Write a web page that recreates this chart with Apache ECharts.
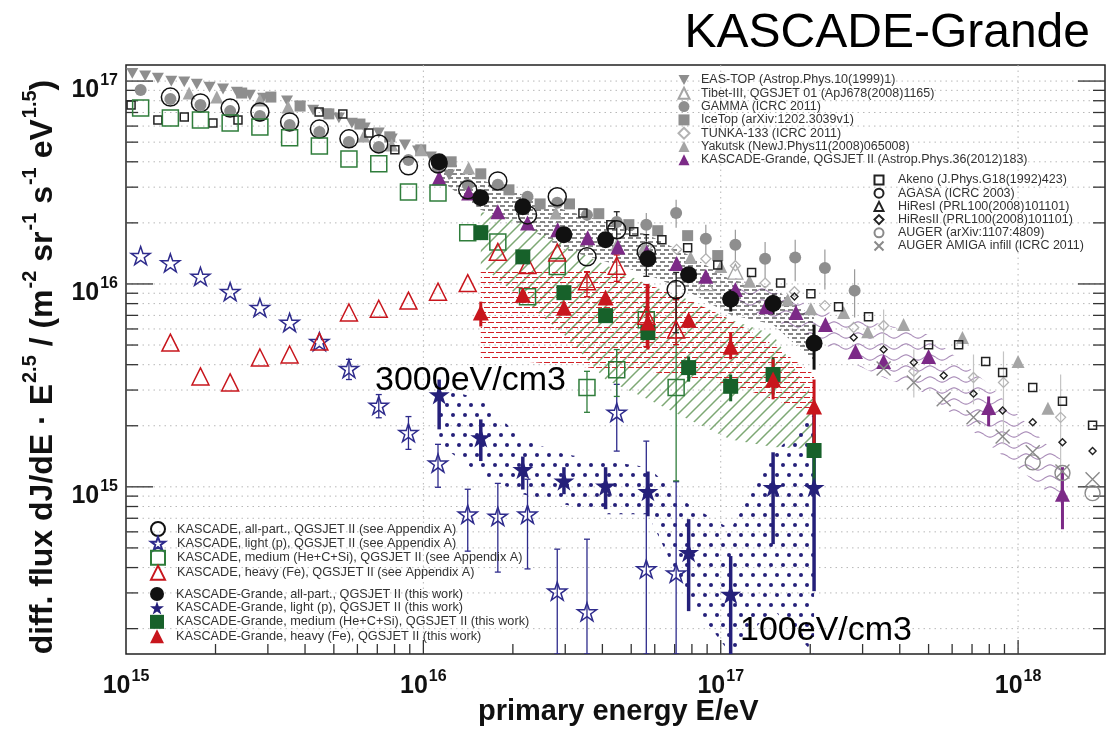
<!DOCTYPE html>
<html><head><meta charset="utf-8">
<script src="https://cdn.jsdelivr.net/npm/echarts@6/dist/echarts.min.js"></script>
<style>html,body{margin:0;padding:0;background:#fff}#c{width:1111px;height:729px}</style>
</head><body><div id="c"></div>
<script>
// ---------------- DATA ----------------
// KASCADE-Grande (this work) energy bins
const kgE = [1.13e16, 1.56e16, 2.16e16, 2.97e16, 4.10e16, 5.69e16, 7.80e16, 1.08e17, 1.50e17, 2.06e17];
const kgAll = [4.0e16, 2.66e16, 2.40e16, 1.75e16, 1.65e16, 1.33e16, 1.11e16, 8.4e15, 8.0e15, 5.1e15];
const kgAllLo = [null, null, null, null, null, null, null, 7.31e15, 7.06e15, 3.78e15];
const kgAllHi = [null, null, null, null, null, null, null, 9.38e15, 8.85e15, 6.31e15];
const kgLight = [2.85e15, 1.75e15, 1.22e15, 1.07e15, 1.01e15, 9.5e14, 4.76e14, 2.96e14, 9.95e14, 9.95e14];
const kgLightLo = [1.92e15, 1.34e15, 9.7e14, 9.2e14, 7.76e14, 7.16e14, 2.44e14, 1.5e14, 5.22e14, 3.06e14];
const kgLightHi = [3.38e15, 2.15e15, 1.41e15, 1.25e15, 1.25e15, 1.19e15, 6.93e14, 4.56e14, 1.48e15, 2.33e15];
const kgMedE = [1.56e16, 2.16e16, 2.97e16, 4.10e16, 5.69e16, 7.80e16, 1.08e17, 1.50e17, 2.06e17];
const kgMed = [1.79e16, 1.36e16, 9.06e15, 6.98e15, 5.76e15, 3.87e15, 3.13e15, 3.58e15, 1.51e15];
const kgMedLo = [null, null, null, null, null, 3.30e15, 2.64e15, 2.85e15, 1.01e15];
const kgMedHi = [null, null, null, null, null, 4.39e15, 3.58e15, 4.34e15, 1.82e15];
const kgHeavy = [7.23e15, 8.85e15, 7.64e15, 8.57e15, 6.46e15, 6.67e15, 4.91e15, 3.38e15, 2.49e15];
const kgHeavyLo = [6.17e15, null, null, null, 4.75e15, null, 4.25e15, 2.70e15, 1.58e15];
const kgHeavyHi = [8.18e15, null, null, null, 9.93e15, null, 5.76e15, 4.25e15, 3.38e15];

// KASCADE (Appendix A) energy bins
const kE = [1.12e15, 1.41e15, 1.78e15, 2.24e15, 2.82e15, 3.55e15, 4.47e15, 5.62e15, 7.08e15, 8.91e15, 1.12e16, 1.41e16, 1.78e16, 2.24e16, 2.82e16, 3.55e16, 4.47e16, 5.62e16, 7.08e16];
const kAll = [null, 8.34e16, 7.80e16, 7.36e16, 7.04e16, 6.29e16, 5.80e16, 5.19e16, 4.90e16, 3.82e16, 3.91e16, 2.91e16, 3.22e16, 2.19e16, 2.69e16, 1.36e16, 1.85e16, 1.44e16, 9.38e15];
const kAllLo = [null, null, null, null, null, null, null, null, null, null, null, null, null, null, null, null, 1.48e16, 1.09e16, 5.75e15];
const kAllHi = [null, null, null, null, null, null, null, null, null, null, null, null, null, null, null, null, 2.27e16, 1.75e16, 1.14e16];
const kLight = [1.38e16, 1.27e16, 1.09e16, 9.16e15, 7.64e15, 6.46e15, 5.20e15, 3.83e15, 2.52e15, 1.85e15, 1.31e15, 7.33e14, 7.16e14, 7.33e14, 3.06e14, 2.42e14, 2.33e15, 3.94e14, 3.76e14];
const kLightLo = [null, null, null, null, null, null, null, 3.38e15, 2.19e15, 1.53e15, 9.95e14, 4.82e14, 3.80e14, 3.94e14, 1.5e14, 1.5e14, 1.50e15, 1.5e14, 1.5e14];
const kLightHi = [null, null, null, null, null, null, null, 4.25e15, 2.85e15, 2.22e15, 1.62e15, 9.73e14, 1.04e15, 1.09e15, 4.93e14, 5.52e14, 3.20e15, 1.68e15, 1.06e15];
const kMed = [7.36e16, 6.58e16, 6.43e16, 6.21e16, 5.94e16, 5.25e16, 4.79e16, 4.13e16, 3.91e16, 2.84e16, 2.81e16, 1.79e16, 1.61e16, 8.65e15, 1.22e16, 3.09e15, 3.78e15, 6.67e15, 3.09e15];
const kMedLo = [null, null, null, null, null, null, null, null, null, null, null, null, null, null, null, 2.33e15, 2.79e15, 5.51e15, 1.07e15];
const kMedHi = [null, null, null, null, null, null, null, null, null, null, null, null, null, null, null, 3.71e15, 4.75e15, 7.73e15, 8.37e15];
const kHeavy = [null, 5.14e15, 3.50e15, 3.27e15, 4.34e15, 4.49e15, 5.20e15, 7.23e15, 7.55e15, 8.28e15, 9.16e15, 1.01e16, 1.44e16, 1.24e16, 1.43e16, 1.03e16, 1.23e16, 6.98e15, 5.96e15];
const kHeavyLo = [null, null, null, null, null, null, null, null, null, null, null, null, null, null, null, 8.65e15, 1.03e16, 4.91e15, 5.02e15];
const kHeavyHi = [null, null, null, null, null, null, null, null, null, null, null, null, null, null, null, 1.15e16, 1.39e16, 9.93e15, 8.37e15];

// KASCADE-Grande 2012
const kg12E = [1.13e16, 1.42e16, 1.78e16, 2.24e16, 2.83e16, 3.57e16, 4.51e16, 5.64e16, 7.11e16, 8.91e16, 1.12e17, 1.42e17, 1.79e17, 2.25e17, 2.84e17, 3.53e17, 5.00e17, 7.96e17, 1.41e18];
const kg12 = [3.33e16, 2.81e16, 2.27e16, 2.00e16, 1.85e16, 1.69e16, 1.52e16, 1.43e16, 1.26e16, 1.09e16, 9.38e15, 7.73e15, 7.23e15, 6.31e15, 4.65e15, 4.15e15, 4.39e15, 2.46e15, 9.2e14];
const kg12Lo = [null, null, null, null, null, null, null, null, null, null, null, null, null, null, null, null, null, 1.99e15, 6.18e14];
const kg12Hi = [null, null, null, null, null, null, null, null, null, null, null, null, null, null, null, null, null, 2.79e15, 1.25e15];

// other experiments
const easE = [1.05e15, 1.16e15, 1.28e15, 1.42e15, 1.57e15, 1.73e15, 1.91e15, 2.12e15, 2.36e15, 2.61e15, 2.89e15, 3.48e15, 3.85e15, 4.26e15, 4.70e15, 5.20e15, 5.75e15, 6.35e15, 7.08e15, 7.83e15, 8.67e15, 9.59e15, 1.06e16, 1.22e16];
const easF = [1.09e17, 1.06e17, 1.035e17, 1.0e17, 9.9e16, 9.66e16, 9.33e16, 9.14e16, 8.83e16, 8.53e16, 8.24e16, 7.98e16, 7.53e16, 7.19e16, 6.89e16, 6.58e16, 6.21e16, 5.87e16, 5.55e16, 5.19e16, 4.84e16, 4.53e16, 4.23e16, 3.45e16];
const tibetE = [5.60e16, 8.91e16, 1.12e17];
const tibetF = [1.44e16, 1.01e16, 1.15e16];
const gammaE = [1.12e15, 1.41e15, 1.78e15, 2.24e15, 2.82e15, 3.55e15, 4.47e15, 5.62e15, 7.08e15, 8.91e15, 1.12e16, 1.41e16, 1.78e16, 2.24e16, 2.82e16, 3.55e16, 4.47e16, 5.62e16, 7.08e16, 8.91e16, 1.12e17, 1.41e17, 1.78e17, 2.24e17, 2.82e17];
const gammaF = [9.04e16, 8.15e16, 7.62e16, 7.11e16, 6.73e16, 6.08e16, 5.61e16, 5.01e16, 4.73e16, 4.08e16, 3.73e16, 3.08e16, 3.08e16, 2.69e16, 2.51e16, 2.19e16, 2.02e16, 1.96e16, 2.24e16, 1.67e16, 1.56e16, 1.33e16, 1.35e16, 1.20e16, 9.27e15];
const gammaLo = [null, null, null, null, null, null, null, null, null, null, null, null, null, null, null, null, null, 1.65e16, 1.89e16, 1.39e16, 1.29e16, 1.07e16, 1.03e16, 9.38e15, 6.83e15];
const gammaHi = [null, null, null, null, null, null, null, null, null, null, null, null, null, null, null, null, null, 2.24e16, 2.60e16, 1.96e16, 1.85e16, 1.61e16, 1.65e16, 1.48e16, 1.18e16];
const iceE = [2.45e15, 3.07e15, 3.85e15, 4.81e15, 6.12e15, 7.71e15, 9.8e15, 1.24e16, 1.56e16, 1.94e16, 2.47e16, 3.10e16, 3.89e16, 4.91e16, 6.14e16, 7.74e16, 9.77e16];
const iceF = [8.73e16, 8.34e16, 7.53e16, 6.89e16, 6.14e16, 5.31e16, 4.58e16, 4.0e16, 3.49e16, 2.91e16, 2.48e16, 2.48e16, 2.22e16, 1.96e16, 1.83e16, 1.73e16, 1.38e16];
const tunkaE = [5.64e16, 7.11e16, 8.91e16, 1.12e17, 1.41e17, 1.77e17, 2.24e17, 2.80e17, 3.53e17, 4.46e17, 7.08e17, 8.93e17, 1.39e18];
const tunkaF = [1.52e16, 1.48e16, 1.33e16, 1.23e16, 1.01e16, 9.16e15, 7.82e15, 6.10e15, 6.24e15, 3.71e15, 3.46e15, 3.27e15, 2.20e15];
const tunkaLo = [null, null, null, null, null, null, null, null, 4.75e15, 2.76e15, 2.55e15, 1.62e15, 8.69e14];
const tunkaHi = [null, null, null, null, null, null, null, null, 7.48e15, 4.75e15, 4.49e15, 4.65e15, 3.58e15];
const yakE = [1.63e15, 2.02e15, 2.82e15, 3.51e15, 6.31e15, 7.83e15, 9.82e15, 1.42e16, 2.79e16, 4.47e16, 5.51e16, 7.92e16, 1.0e17, 1.25e17, 1.68e17, 2.01e17, 2.59e17, 3.12e17, 4.12e17, 6.50e17, 1.0e18, 1.26e18];
const yakF = [8.73e16, 8.34e16, 8.07e16, 7.45e16, 5.36e16, 4.84e16, 4.58e16, 3.73e16, 2.24e16, 1.56e16, 1.51e16, 1.35e16, 1.22e16, 1.03e16, 8.37e15, 7.55e15, 7.23e15, 5.82e15, 6.31e15, 5.44e15, 4.15e15, 2.44e15];
const akenoE = [1.04e15, 1.28e15, 1.57e15, 1.96e15, 2.38e15, 4.46e15, 5.36e15, 6.56e15, 8.02e15, 3.44e16, 4.27e16, 5.10e16, 6.34e16, 7.74e16, 9.77e16, 1.27e17, 1.59e17, 2.01e17, 2.49e17, 3.14e17, 5.00e17, 6.31e17, 7.78e17, 8.87e17, 1.12e18, 1.41e18, 1.78e18];
const akenoF = [7.62e16, 6.43e16, 6.65e16, 6.21e16, 6.43e16, 7.04e16, 6.89e16, 5.55e16, 4.58e16, 2.24e16, 1.96e16, 1.81e16, 1.65e16, 1.51e16, 1.24e16, 1.14e16, 1.01e16, 8.95e15, 7.73e15, 6.90e15, 5.02e15, 5.02e15, 4.15e15, 3.66e15, 3.09e15, 2.64e15, 2.01e15];
const hires2E = [1.77e17, 2.80e17, 3.53e17, 4.46e17, 5.62e17, 7.08e17, 8.87e17, 1.12e18, 1.41e18, 1.78e18];
const hires2F = [8.67e15, 5.44e15, 4.75e15, 4.10e15, 3.54e15, 2.88e15, 2.38e15, 2.08e15, 1.66e15, 1.50e15];
const augerE = [1.12e18, 1.41e18, 1.78e18];
const augerF = [1.32e15, 1.17e15, 9.31e14];
const amigaE = [3.53e17, 4.46e17, 5.62e17, 7.08e17, 8.87e17, 1.12e18, 1.41e18, 1.78e18];
const amigaF = [3.83e15, 3.27e15, 2.70e15, 2.20e15, 1.77e15, 1.48e15, 1.19e15, 1.09e15];

// systematic bands (KASCADE-Grande, this work)
const bandAllHi = [4.33e16, 3.26e16, 2.75e16, 2.32e16, 2.02e16, 1.75e16, 1.39e16, 1.05e16, 9.59e15, 6.83e15];
const bandAllLo = [3.26e16, 2.32e16, 1.96e16, 1.48e16, 1.29e16, 1.11e16, 9.16e15, 7.06e15, 6.31e15, 4.15e15];
const bandMedHi = [2.27e16, 2.02e16, 1.56e16, 1.24e16, 9.93e15, 8.37e15, 6.67e15, 5.64e15, 2.70e15];
const bandMedLo = [1.24e16, 8.37e15, 5.64e15, 3.38e15, 2.70e15, 2.15e15, 1.71e15, 1.57e15, 1.53e15];
const bandHeavyHi = [1.18e16, 1.20e16, 1.18e16, 1.15e16, 9.93e15, 8.37e15, 6.67e15, 5.02e15, 3.58e15];
const bandHeavyLo = [4.15e15, 4.15e15, 4.01e15, 3.78e15, 3.71e15, 3.46e15, 3.20e15, 2.70e15, 2.28e15];
const bandLightHi = [3.09e15, 2.70e15, 1.71e15, 1.45e15, 1.34e15, 1.25e15, 8.20e14, 6.18e14, 1.45e15, 2.28e15];
const bandLightLo = [1.62e15, 1.15e15, 9.20e14, 8.20e14, 7.33e14, 7.33e14, 2.80e14, 1.5e14, 2.50e14, 1.5e14];
const band12E = [1.12e17, 1.79e17, 2.25e17, 2.84e17, 3.53e17, 5.00e17, 7.96e17, 1.41e18];
const band12Hi = [1.07e16, 8.37e15, 7.31e15, 6.67e15, 6.31e15, 5.64e15, 3.20e15, 1.34e15];
const band12Lo = [7.91e15, 5.96e15, 5.02e15, 4.01e15, 3.46e15, 2.85e15, 1.62e15, 8.20e14];

const X_MIN = 1e15, X_MAX = 1.96e18, Y_MIN = 1.5e14, Y_MAX = 1.2e17;

// ---------------- HELPERS ----------------
const FONT = 'Liberation Sans, Arial, Helvetica, sans-serif';
const pairs = (xs, ys) => xs.map((x, i) => ys[i] == null ? null : [x, ys[i]]).filter(Boolean);
const errs = (xs, lo, hi) => xs.map((x, i) => lo[i] == null ? null : [x, lo[i], hi[i]]).filter(Boolean);

function pattern(kind) {
  const c = document.createElement('canvas');
  const g = c.getContext('2d');
  if (kind === 'black') {
    c.width = 16; c.height = 8;
    g.strokeStyle = '#111'; g.lineWidth = 1.2;
    g.beginPath();
    g.moveTo(0, 2); g.lineTo(5, 2); g.moveTo(8, 2); g.lineTo(13, 2);
    g.moveTo(4, 6); g.lineTo(9, 6); g.moveTo(12, 6); g.lineTo(16, 6); g.moveTo(0, 6); g.lineTo(1, 6);
    g.stroke();
  } else if (kind === 'red') {
    c.width = 16; c.height = 10;
    g.strokeStyle = '#d21f26'; g.lineWidth = 1.1;
    g.beginPath();
    g.moveTo(0, 2.5); g.lineTo(6, 2.5); g.moveTo(8, 2.5); g.lineTo(14, 2.5);
    g.moveTo(4, 7.5); g.lineTo(10, 7.5); g.moveTo(12, 7.5); g.lineTo(16, 7.5); g.moveTo(0, 7.5); g.lineTo(2, 7.5);
    g.stroke();
  } else if (kind === 'green') {
    c.width = 12; c.height = 12;
    g.strokeStyle = '#7da874'; g.lineWidth = 1.5;
    g.beginPath();
    g.moveTo(-1, 13); g.lineTo(13, -1);
    g.moveTo(-7, 7); g.lineTo(7, -7);
    g.moveTo(5, 19); g.lineTo(19, 5);
    g.stroke();
  } else if (kind === 'dots') {
    c.width = 12; c.height = 20;
    g.fillStyle = '#25207a';
    g.beginPath(); g.arc(3, 5, 2, 0, Math.PI * 2); g.fill();
    g.beginPath(); g.arc(9, 15, 2, 0, Math.PI * 2); g.fill();
  } else if (kind === 'waves') {
    c.width = 24; c.height = 11;
    g.strokeStyle = '#a98cb8'; g.lineWidth = 1.1;
    g.beginPath();
    for (let x = 0; x <= 24; x += 0.5) {
      const y = 5.5 + 2.6 * Math.sin(2 * Math.PI * x / 24);
      if (x === 0) g.moveTo(x, y); else g.lineTo(x, y);
    }
    g.stroke();
  }
  return { image: c, repeat: 'repeat' };
}

function bandSeries(xs, hi, lo, fill) {
  return {
    type: 'custom', silent: true, z: 1, clip: true,
    data: xs.map((x, i) => [x, hi[i], lo[i]]),
    encode: { x: 0, y: [1, 2] },
    renderItem: function (params, api) {
      if (params.dataIndex !== 0) return;
      const pts = [];
      for (let i = 0; i < xs.length; i++) pts.push(api.coord([xs[i], hi[i]]));
      for (let i = xs.length - 1; i >= 0; i--) pts.push(api.coord([xs[i], lo[i]]));
      return { type: 'polygon', shape: { points: pts }, style: { fill: fill, stroke: null } };
    }
  };
}

function errSeries(data, color, width, cap) {
  return {
    type: 'custom', silent: true, z: 3, clip: true,
    data: data, encode: { x: 0, y: [1, 2] },
    renderItem: function (params, api) {
      const x = api.value(0), lo = api.value(1), hi = api.value(2);
      const a = api.coord([x, lo]), b = api.coord([x, hi]);
      const st = { stroke: color, lineWidth: width };
      const ch = [{ type: 'line', shape: { x1: a[0], y1: a[1], x2: b[0], y2: b[1] }, style: st }];
      if (cap) {
        ch.push({ type: 'line', shape: { x1: a[0] - cap, y1: a[1], x2: a[0] + cap, y2: a[1] }, style: st });
        ch.push({ type: 'line', shape: { x1: b[0] - cap, y1: b[1], x2: b[0] + cap, y2: b[1] }, style: st });
      }
      return { type: 'group', children: ch };
    }
  };
}

function scat(name, data, symbol, size, fill, stroke, bw, z) {
  return {
    type: 'scatter', name: name, data: data, symbol: symbol, symbolSize: size, z: z || 4, symbolKeepAspect: true,
    itemStyle: { color: fill, borderColor: stroke || fill, borderWidth: bw || 0, opacity: 1 },
    emphasis: { disabled: true }
  };
}

// axis grid values (tick positions)
const yGrid = [], xMinor = [];
for (let n = 14; n <= 17; n++) for (let m = 1; m <= 9; m++) { const v = m * Math.pow(10, n); if (v >= Y_MIN && v <= Y_MAX) yGrid.push([v, m === 1]); }
for (let n = 15; n <= 18; n++) for (let m = 1; m <= 9; m++) { const v = m * Math.pow(10, n); if (v >= X_MIN && v <= X_MAX) xMinor.push([v, m === 1]); }

const frameSeries = {
  type: 'custom', silent: true, z: 0,
  data: [[X_MIN, Y_MIN]], encode: { x: 0, y: 1 },
  renderItem: function (params, api) {
    const cs = params.coordSys;
    const L = cs.x, R = cs.x + cs.width, T = cs.y, B = cs.y + cs.height;
    const ch = [];
    yGrid.forEach(function (t) {
      const y = api.coord([X_MIN, t[0]])[1];
      if (y < T + 1 || y > B - 1) return;
      ch.push({ type: 'line', shape: { x1: L, y1: y, x2: R, y2: y }, style: { stroke: '#b8b8b8', lineWidth: 1, lineDash: [1.5, 4] } });
      const len = t[1] ? 27 : 12;
      ch.push({ type: 'line', shape: { x1: L, y1: y, x2: L + len, y2: y }, style: { stroke: '#333', lineWidth: 1.3 } });
      ch.push({ type: 'line', shape: { x1: R - len, y1: y, x2: R, y2: y }, style: { stroke: '#333', lineWidth: 1.3 } });
    });
    xMinor.forEach(function (t) {
      const x = api.coord([t[0], Y_MIN])[0];
      if (x < L + 1 || x > R - 1) return;
      if (t[1]) ch.push({ type: 'line', shape: { x1: x, y1: T, x2: x, y2: B }, style: { stroke: '#b8b8b8', lineWidth: 1, lineDash: [1.5, 4] } });
      const len = t[1] ? 14 : 10;
      ch.push({ type: 'line', shape: { x1: x, y1: B, x2: x, y2: B - len }, style: { stroke: '#333', lineWidth: 1.3 } });
    });
    return { type: 'group', children: ch };
  }
};

const STAR = 'path://M50,0 L61.8,35.1 L98.6,35.1 L68.8,56.8 L80.2,91.9 L50,70.2 L19.8,91.9 L31.2,56.8 L1.4,35.1 L38.2,35.1 Z';
const DOWN = 'path://M0,0 L10,0 L5,9 Z';
const CROSS = 'path://M0,0 L10,10 M10,0 L0,10';
const NAVY = '#25207a', NAVY2 = '#2e2b8c', GREEN = '#17612a', GREEN2 = '#2f7d3b', RED = '#c8161d', PURPLE = '#7c2a87', GREY = '#8e8e8e';

const N = {
  eas: 'EAS-TOP (Astrop.Phys.10(1999)1)', tibet: 'Tibet-III, QGSJET 01 (ApJ678(2008)1165)', gamma: 'GAMMA (ICRC 2011)',
  ice: 'IceTop (arXiv:1202.3039v1)', tunka: 'TUNKA-133 (ICRC 2011)', yak: 'Yakutsk (NewJ.Phys11(2008)065008)',
  kg12: 'KASCADE-Grande, QGSJET II (Astrop.Phys.36(2012)183)',
  akeno: 'Akeno (J.Phys.G18(1992)423)', agasa: 'AGASA (ICRC 2003)', hires1: 'HiResI (PRL100(2008)101101)',
  hires2: 'HiResII (PRL100(2008)101101)', auger: 'AUGER (arXiv:1107:4809)', amiga: 'AUGER AMIGA infill (ICRC 2011)',
  kAll: 'KASCADE, all-part., QGSJET II (see Appendix A)', kLight: 'KASCADE, light (p), QGSJET II (see Appendix A)',
  kMed: 'KASCADE, medium (He+C+Si), QGSJET II (see Appendix A)', kHeavy: 'KASCADE, heavy (Fe), QGSJET II (see Appendix A)',
  gAll: 'KASCADE-Grande, all-part., QGSJET II (this work)', gLight: 'KASCADE-Grande, light (p), QGSJET II (this work)',
  gMed: 'KASCADE-Grande, medium (He+C+Si), QGSJET II (this work)', gHeavy: 'KASCADE-Grande, heavy (Fe), QGSJET II (this work)'
};

const series = [
  frameSeries,
  bandSeries(band12E, band12Hi, band12Lo, pattern('waves')),
  bandSeries(kgMedE, bandMedHi, bandMedLo, pattern('green')),
  bandSeries(kgMedE, bandHeavyHi, bandHeavyLo, pattern('red')),
  bandSeries(kgE, bandAllHi, bandAllLo, pattern('black')),
  bandSeries(kgE, bandLightHi, bandLightLo, pattern('dots')),
  // error bars
  errSeries(errs(gammaE, gammaLo, gammaHi), '#9a9a9a', 1.2, 0),
  errSeries(errs(tunkaE, tunkaLo, tunkaHi), '#c4c4c4', 1.2, 0),
  errSeries(errs(kg12E, kg12Lo, kg12Hi), PURPLE, 3, 0),
  errSeries(errs(kE, kLightLo, kLightHi), NAVY2, 1.3, 3),
  errSeries(errs(kE, kMedLo, kMedHi), GREEN2, 1.3, 3),
  errSeries(errs(kE, kHeavyLo, kHeavyHi), RED, 1.3, 3),
  errSeries(errs(kE, kAllLo, kAllHi), '#222', 1.3, 3),
  errSeries(errs(kgE, kgLightLo, kgLightHi), NAVY, 3.5, 0),
  errSeries(errs(kgMedE, kgMedLo, kgMedHi), GREEN, 3, 0),
  errSeries(errs(kgMedE, kgHeavyLo, kgHeavyHi), RED, 3, 0),
  errSeries(errs(kgE, kgAllLo, kgAllHi), '#111', 3, 0),
  // other experiments
  scat(N.eas, pairs(easE, easF), DOWN, 12, GREY, GREY, 0, 4),
  scat(N.tibet, pairs(tibetE, tibetF), 'triangle', 15, 'rgba(255,255,255,0)', '#a5a5a5', 1.3, 4),
  scat(N.gamma, pairs(gammaE, gammaF), 'circle', 12, GREY, GREY, 0, 4),
  scat(N.ice, pairs(iceE, iceF), 'rect', 11, GREY, GREY, 0, 4),
  scat(N.tunka, pairs(tunkaE, tunkaF), 'diamond', 10, 'rgba(255,255,255,0)', '#b3b3b3', 1.3, 4),
  scat(N.yak, pairs(yakE, yakF), 'triangle', 13, '#a5a5a5', '#a5a5a5', 0, 4),
  scat(N.kg12, pairs(kg12E, kg12), 'triangle', 15, PURPLE, PURPLE, 0, 5),
  scat(N.akeno, pairs(akenoE, akenoF), 'rect', 8, 'rgba(255,255,255,0)', '#222', 1.5, 5),
  scat(N.agasa, [], 'circle', 7, 'rgba(255,255,255,0)', '#222', 1.5, 5),
  scat(N.hires1, [], 'triangle', 8, 'rgba(255,255,255,0)', '#222', 1.5, 5),
  scat(N.hires2, pairs(hires2E, hires2F), 'diamond', 7, 'rgba(255,255,255,0)', '#222', 1.4, 5),
  scat(N.auger, pairs(augerE, augerF), 'circle', 15, 'rgba(255,255,255,0)', '#8a8a8a', 1.4, 5),
  scat(N.amiga, pairs(amigaE, amigaF), CROSS, 14, 'rgba(255,255,255,0)', '#8a8a8a', 1.4, 5),
  // KASCADE
  scat(N.kAll, pairs(kE, kAll), 'circle', 18, 'rgba(255,255,255,0)', '#111', 1.5, 6),
  scat(N.kLight, pairs(kE, kLight), STAR, 19, 'rgba(255,255,255,0)', NAVY2, 1.5, 6),
  scat(N.kMed, pairs(kE, kMed), 'rect', 16, 'rgba(255,255,255,0)', GREEN2, 1.5, 6),
  scat(N.kHeavy, pairs(kE, kHeavy), 'triangle', 17, 'rgba(255,255,255,0)', RED, 1.5, 6),
  // KASCADE-Grande
  scat(N.gAll, pairs(kgE, kgAll), 'circle', 17, '#111', '#111', 0, 7),
  scat(N.gLight, pairs(kgE, kgLight), STAR, 21, NAVY, NAVY, 0, 7),
  scat(N.gMed, pairs(kgMedE, kgMed), 'rect', 15, GREEN, GREEN, 0, 7),
  scat(N.gHeavy, pairs(kgMedE, kgHeavy), 'triangle', 16, RED, RED, 0, 7)
];

const labelRich = {
  b: { fontSize: 25, fontWeight: 'bold', fontFamily: FONT, color: '#111', lineHeight: 27, padding: [10, 0, 0, 0], verticalAlign: 'top' },
  s: { fontSize: 16, fontWeight: 'bold', fontFamily: FONT, color: '#111', lineHeight: 15, padding: [5, 0, 0, 1], verticalAlign: 'top' }
};
function powLabel(v) {
  const l = Math.log10(v), r = Math.round(l);
  if (Math.abs(l - r) > 1e-3) return '';
  return '{b|10}{s|' + r + '}';
}

const legendText = (fs, pad) => ({ fontSize: fs, color: '#333', fontFamily: FONT, lineHeight: 13, padding: [0, 0, 0, pad] });

const option = {
  animation: false,
  backgroundColor: '#fff',
  grid: { left: 126, right: 6, top: 65, bottom: 75, show: true, borderColor: '#222', borderWidth: 1.5, backgroundColor: 'transparent' },
  xAxis: {
    type: 'log', logBase: 10, min: X_MIN, max: X_MAX,
    axisLine: { show: false }, axisTick: { show: false }, splitLine: { show: false }, minorTick: { show: false },
    axisLabel: { formatter: powLabel, rich: labelRich, margin: 10, showMinLabel: true, showMaxLabel: true }
  },
  yAxis: {
    type: 'log', logBase: 10, min: Y_MIN, max: Y_MAX,
    axisLine: { show: false }, axisTick: { show: false }, splitLine: { show: false },
    axisLabel: { formatter: powLabel, rich: labelRich, margin: 8, showMinLabel: true, showMaxLabel: true }
  },
  legend: [
    { orient: 'vertical', left: 672.5, top: 68.5, itemWidth: 11, itemHeight: 11, itemGap: 0.3, selectedMode: false, symbolKeepAspect: true,
      data: [N.eas, N.tibet, N.gamma, N.ice, N.tunka, N.yak, N.kg12], textStyle: legendText(12.5, 6.5) },
    { orient: 'vertical', left: 868.5, top: 168.5, itemWidth: 9, itemHeight: 9, itemGap: 0.2, selectedMode: false, symbolKeepAspect: true,
      data: [N.akeno, N.agasa, N.hires1, N.hires2, N.auger, N.amiga], textStyle: legendText(12.5, 9.5) },
    { orient: 'vertical', left: 145, top: 516, itemWidth: 14, itemHeight: 14, itemGap: -1.2, selectedMode: false, symbolKeepAspect: true,
      data: [N.kAll, N.kLight, N.kMed, N.kHeavy], textStyle: legendText(12.7, 7) },
    { orient: 'vertical', left: 145, top: 582, itemWidth: 14, itemHeight: 14, itemGap: 0.3, selectedMode: false, symbolKeepAspect: true,
      data: [N.gAll, N.gLight, N.gMed, N.gHeavy], textStyle: legendText(12.7, 7) }
  ],
  graphic: [
    { type: 'text', right: 21, top: 10, z: 100,
      style: { text: 'KASCADE-Grande', font: '48px ' + FONT, fill: '#000' } },
    { type: 'text', left: 478, top: 697, z: 100,
      style: { text: 'primary energy E/eV', font: 'bold 29px ' + FONT, fill: '#111' } },
    { type: 'text', x: 375, y: 381, z: 100,
      style: { text: '3000eV/cm3', font: '34px ' + FONT, fill: '#000', align: 'left', verticalAlign: 'middle' } },
    { type: 'text', x: 740, y: 631, z: 100,
      style: { text: '100eV/cm3', font: '34px ' + FONT, fill: '#000', align: 'left', verticalAlign: 'middle' } },
    { type: 'text', x: 33, y: 367, rotation: Math.PI / 2, z: 100,
      style: {
        text: '{a|diff. flux dJ/dE · E}{s|2.5}{a| / (m}{s|-2}{a| sr}{s|-1}{a| s}{s|-1}{a| eV}{s|1.5}{a|)}',
        align: 'center', verticalAlign: 'middle',
        rich: {
          a: { fontSize: 32, fontWeight: 'bold', fontFamily: FONT, fill: '#111', color: '#111', lineHeight: 32, padding: [10, 0, 0, 0], verticalAlign: 'top' },
          s: { fontSize: 20, fontWeight: 'bold', fontFamily: FONT, fill: '#111', color: '#111', lineHeight: 19, padding: [3, 0, 0, 1], verticalAlign: 'top' }
        }
      } }
  ],
  series: series
};

const chart = echarts.init(document.getElementById('c'), null, { renderer: 'canvas' });
chart.setOption(option);
</script></body></html>
